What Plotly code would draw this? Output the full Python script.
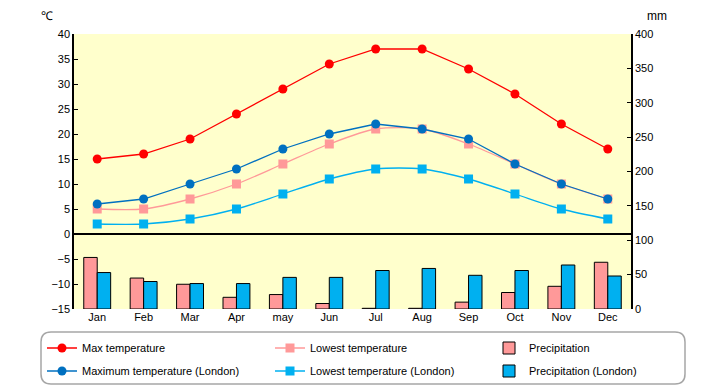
import plotly.graph_objects as go

months = ["Jan", "Feb", "Mar", "Apr", "may", "Jun", "Jul", "Aug", "Sep", "Oct", "Nov", "Dec"]
max_temp = [15, 16, 19, 24, 29, 34, 37, 37, 33, 28, 22, 17]
min_temp = [5, 5, 7, 10, 14, 18, 21, 21, 18, 14, 10, 7]
precip = [75, 45, 36, 17, 21, 8, 1, 1, 10, 24, 33, 68]
max_london = [6, 7, 10, 13, 17, 20, 22, 21, 19, 14, 10, 7]
min_london = [2, 2, 3, 5, 8, 11, 13, 13, 11, 8, 5, 3]
precip_london = [53, 40, 37, 37, 46, 46, 56, 59, 49, 56, 64, 48]

temp_ticks = list(range(-15, 41, 5))
mm_ticks = list(range(0, 401, 50))

FONT = "Liberation Sans"
W, H = 720, 385
L, R, T, B = 74, 89, 34, 76
pw, ph = W - L - R, H - T - B


def px(x):
    return (x - L) / pw


def py(y):
    return (H - B - y) / ph


fig = go.Figure()

# bars on base axis (right, mm) -> drawn beneath lines
fig.add_trace(go.Bar(x=months, y=precip, name="Precipitation", yaxis="y",
                     marker=dict(color="#FF9999", line=dict(color="black", width=1)),
                     legend="legend3"))
fig.add_trace(go.Bar(x=months, y=precip_london, name="Precipitation (London)", yaxis="y",
                     marker=dict(color="#00B0F0", line=dict(color="black", width=1)),
                     legend="legend6"))

# lines on overlaying axis (left, ℃)
fig.add_trace(go.Scatter(x=months, y=max_temp, name="Max temperature", yaxis="y2",
                         mode="lines+markers", line=dict(color="#FF0000", width=1.3),
                         marker=dict(symbol="circle", size=9, color="#FF0000"),
                         legend="legend"))
fig.add_trace(go.Scatter(x=months, y=min_temp, name="Lowest temperature", yaxis="y2",
                         mode="lines+markers",
                         line=dict(color="#FF9999", width=1.3, shape="spline", smoothing=0.8),
                         marker=dict(symbol="square", size=9, color="#FF9999"),
                         legend="legend2"))
fig.add_trace(go.Scatter(x=months, y=max_london, name="Maximum temperature (London)", yaxis="y2",
                         mode="lines+markers", line=dict(color="#0070C0", width=1.3),
                         marker=dict(symbol="circle", size=9, color="#0070C0"),
                         legend="legend4"))
fig.add_trace(go.Scatter(x=months, y=min_london, name="Lowest temperature (London)", yaxis="y2",
                         mode="lines+markers",
                         line=dict(color="#00B0F0", width=1.3, shape="spline", smoothing=0.8),
                         marker=dict(symbol="square", size=9, color="#00B0F0"),
                         legend="legend5"))

# rounded legend frame
x0, x1 = px(41), px(685)
y0, y1 = py(384), py(332)
rx, ry = 10 / pw, 10 / ph
path = (f"M {x0+rx},{y1} L {x1-rx},{y1} Q {x1},{y1} {x1},{y1-ry} "
        f"L {x1},{y0+ry} Q {x1},{y0} {x1-rx},{y0} L {x0+rx},{y0} "
        f"Q {x0},{y0} {x0},{y0+ry} L {x0},{y1-ry} Q {x0},{y1} {x0+rx},{y1} Z")

col_x = [42, 270, 489]
row_y = [348, 371]


def leg(cx, ry_):
    return dict(orientation="v", x=cx / W, xref="container", xanchor="left",
                y=1 - ry_ / H, yref="container", yanchor="middle",
                bgcolor="rgba(0,0,0,0)", borderwidth=0, font=dict(size=11))


fig.update_layout(
    width=W, height=H,
    showlegend=True,
    margin=dict(l=L, r=R, t=T, b=B, autoexpand=False),
    paper_bgcolor="white",
    plot_bgcolor="#FFFFCC",
    font=dict(family=FONT, size=11, color="black"),
    bargap=0.42, bargroupgap=0,
    xaxis=dict(showgrid=False, showline=False, ticks="", tickfont=dict(size=11),
               range=[-0.5, len(months) - 0.5], autorange=False),
    yaxis=dict(side="right", range=[0, 400], tickvals=mm_ticks, showgrid=False,
               showline=True, linecolor="black", linewidth=1.5, ticks="inside", ticklen=4,
               tickcolor="black", zeroline=False, tickfont=dict(size=11)),
    yaxis2=dict(side="left", overlaying="y", range=[-15, 40], tickvals=temp_ticks,
                showgrid=False, showline=True, linecolor="black", linewidth=1.5,
                ticks="inside", ticklen=4, tickcolor="black",
                zeroline=True, zerolinecolor="black", zerolinewidth=1.5,
                tickfont=dict(size=11)),
    legend=leg(col_x[0], row_y[0]),
    legend2=leg(col_x[1], row_y[0]),
    legend3=leg(col_x[2], row_y[0]),
    legend4=leg(col_x[0], row_y[1]),
    legend5=leg(col_x[1], row_y[1]),
    legend6=leg(col_x[2], row_y[1]),
    shapes=[dict(type="path", path=path, xref="paper", yref="paper",
                 line=dict(color="#A6A6A6", width=1.5), fillcolor="white", layer="below")],
    annotations=[
        dict(text="℃", x=px(47), y=py(16), xref="paper", yref="paper", showarrow=False,
             xanchor="center", yanchor="middle", font=dict(size=12)),
        dict(text="mm", x=px(657), y=py(16), xref="paper", yref="paper", showarrow=False,
             xanchor="center", yanchor="middle", font=dict(size=12)),
    ],
)

fig.write_html(
    "out.html",
    config={"displayModeBar": False},
    post_script="document.body.style.margin='0';document.documentElement.style.overflow='hidden';",
)
